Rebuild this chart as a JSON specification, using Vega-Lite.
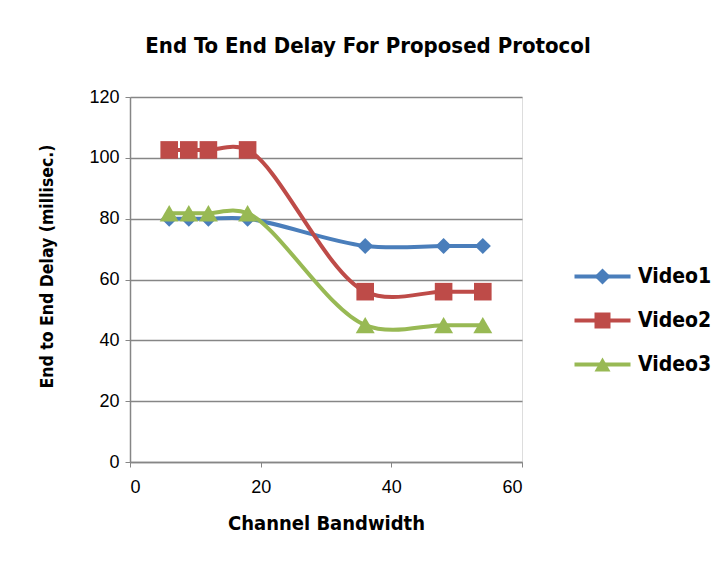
{
  "$schema": "https://vega.github.io/schema/vega-lite/v6.json",
  "width": 392,
  "height": 365,
  "autosize": {"type": "none"},
  "padding": {"left": 130, "top": 97, "right": 197, "bottom": 103},
  "background": "white",
  "title": {
    "text": "End To End Delay For Proposed Protocol",
    "font": "DejaVu Sans Condensed",
    "fontSize": 22,
    "fontWeight": "bold",
    "color": "#000000",
    "anchor": "middle",
    "dx": 42,
    "offset": 30
  },
  "data": {
    "values": [
      {"bw": 6, "delay": 80, "series": "Video1"},
      {"bw": 9, "delay": 80, "series": "Video1"},
      {"bw": 12, "delay": 80, "series": "Video1"},
      {"bw": 18, "delay": 80, "series": "Video1"},
      {"bw": 36, "delay": 71, "series": "Video1"},
      {"bw": 48, "delay": 71, "series": "Video1"},
      {"bw": 54, "delay": 71, "series": "Video1"},
      {"bw": 6, "delay": 102.6, "series": "Video2"},
      {"bw": 9, "delay": 102.6, "series": "Video2"},
      {"bw": 12, "delay": 102.6, "series": "Video2"},
      {"bw": 18, "delay": 102.6, "series": "Video2"},
      {"bw": 36, "delay": 56, "series": "Video2"},
      {"bw": 48, "delay": 56, "series": "Video2"},
      {"bw": 54, "delay": 56, "series": "Video2"},
      {"bw": 6, "delay": 81.8, "series": "Video3"},
      {"bw": 9, "delay": 81.8, "series": "Video3"},
      {"bw": 12, "delay": 81.8, "series": "Video3"},
      {"bw": 18, "delay": 81.8, "series": "Video3"},
      {"bw": 36, "delay": 45, "series": "Video3"},
      {"bw": 48, "delay": 45, "series": "Video3"},
      {"bw": 54, "delay": 45, "series": "Video3"}
    ]
  },
  "encoding": {
    "x": {
      "field": "bw", "type": "quantitative",
      "scale": {"domain": [0, 60], "nice": false},
      "axis": {
        "title": "Channel Bandwidth",
        "values": [0, 20, 40, 60],
        "grid": false,
        "domainColor": "#868686", "domainWidth": 1.5,
        "tickColor": "#868686", "tickSize": 5,
        "labelFont": "Liberation Sans", "labelFontSize": 18, "labelColor": "#000000",
        "labelPadding": 11,
        "titleFont": "DejaVu Sans Condensed", "titleFontSize": 20, "titleFontWeight": "bold", "titleColor": "#000000",
        "titlePadding": 17
      }
    },
    "y": {
      "field": "delay", "type": "quantitative",
      "scale": {"domain": [0, 120], "nice": false},
      "axis": {
        "title": "End to End Delay (millisec.)",
        "values": [0, 20, 40, 60, 80, 100, 120],
        "grid": true, "gridColor": "#868686", "gridWidth": 1.5,
        "domainColor": "#868686", "domainWidth": 1.5,
        "tickColor": "#868686", "tickSize": 5,
        "labelFont": "Liberation Sans", "labelFontSize": 18, "labelColor": "#000000",
        "labelPadding": 6,
        "titleFont": "DejaVu Sans Condensed", "titleFontSize": 17.5, "titleFontWeight": "bold", "titleColor": "#000000",
        "titlePadding": 32,
        "titleY": 169
      }
    }
  },
  "layer": [
    {
      "mark": {"type": "line", "interpolate": "catmull-rom", "strokeWidth": 4},
      "encoding": {
        "color": {
          "field": "series", "type": "nominal",
          "scale": {"domain": ["Video1", "Video2", "Video3"], "range": ["#4a7ebb", "#be4b48", "#98b954"]},
          "legend": {
            "title": null,
            "orient": "none",
            "legendX": 462,
            "legendY": 169,
            "padding": 0,
            "symbolType": "M-3.5,0H3.5",
            "symbolSize": 256,
            "symbolStrokeWidth": 4,
            "symbolFillColor": "transparent",
            "labelFont": "DejaVu Sans Condensed",
            "labelFontSize": 21,
            "labelFontWeight": "bold",
            "labelColor": "#000000",
            "labelOffset": 25,
            "rowPadding": 22
          }
        }
      }
    },
    {
      "mark": {"type": "point", "filled": true, "opacity": 1},
      "encoding": {
        "color": {
          "field": "series", "type": "nominal",
          "scale": {"domain": ["Video1", "Video2", "Video3"], "range": ["#4a7ebb", "#be4b48", "#98b954"]},
          "legend": {
            "title": null,
            "orient": "none",
            "legendX": 462,
            "legendY": 169,
            "padding": 0,
            "symbolSize": 256,
            "symbolStrokeWidth": 0,
            "labelFont": "DejaVu Sans Condensed",
            "labelFontSize": 21,
            "labelFontWeight": "bold",
            "labelColor": "#000000",
            "labelOpacity": 0,
            "labelOffset": 25,
            "rowPadding": 22
          }
        },
        "shape": {
          "field": "series", "type": "nominal",
          "scale": {"domain": ["Video1", "Video2", "Video3"], "range": ["diamond", "square", "triangle-up"]},
          "legend": {
            "title": null,
            "orient": "none",
            "legendX": 462,
            "legendY": 169,
            "padding": 0,
            "symbolSize": 256,
            "symbolStrokeWidth": 0,
            "labelFont": "DejaVu Sans Condensed",
            "labelFontSize": 21,
            "labelFontWeight": "bold",
            "labelColor": "#000000",
            "labelOpacity": 0,
            "labelOffset": 25,
            "rowPadding": 22
          }
        },
        "size": {
          "field": "series", "type": "nominal",
          "scale": {"domain": ["Video1", "Video2", "Video3"], "range": [260, 360, 330]},
          "legend": null
        }
      }
    }
  ],
  "resolve": {"legend": {"color": "independent", "shape": "independent"}}
}
